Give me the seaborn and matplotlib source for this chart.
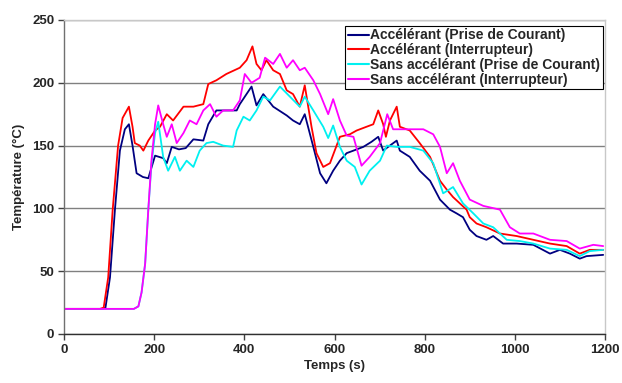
import matplotlib
matplotlib.use("Agg")
import matplotlib.pyplot as plt
import seaborn as sns
import pandas as pd
from matplotlib.lines import Line2D

# ---- data ----
labels = ["Accélérant (Prise de Courant)", "Accélérant (Interrupteur)",
          "Sans accélérant (Prise de Courant)", "Sans accélérant (Interrupteur)"]
colors = ["#000080", "#ff0000", "#00f0f0", "#ff00ff"]

navy_t = [0, 85, 92, 102, 113, 124, 135, 144, 152, 161, 175, 187, 202, 220, 228, 239, 255, 270, 287, 309,
          320, 338, 360, 383, 390, 416, 427, 442, 464, 494, 508, 523, 534, 553, 568, 582, 597, 612, 627,
          642, 664, 682, 697, 708, 719, 738, 745, 767, 789, 812, 834, 856, 871, 885, 900, 915, 937, 952,
          974, 1004, 1041, 1078, 1100, 1122, 1144, 1159, 1196]
navy_v = [20, 20, 21, 45, 99, 146, 163, 167, 150, 128, 125, 124, 142, 140, 136, 149, 147, 148, 155, 154,
          167, 178, 178, 178, 183, 197, 182, 191, 181, 174, 170, 167, 175, 149, 128, 120, 130, 138, 144,
          146, 149, 153, 157, 146, 149, 154, 146, 141, 130, 122, 107, 99, 96, 93, 83, 78, 75, 78,
          72, 72, 71, 64, 67, 64, 60, 62, 63]

red_t = [0, 80, 88, 98, 108, 120, 130, 144, 152, 157, 168, 176, 187, 202, 213, 228, 242, 265, 287, 309,
         320, 338, 360, 390, 405, 418, 427, 438, 449, 464, 479, 494, 508, 523, 534, 549, 560, 575, 590,
         612, 634, 649, 671, 686, 697, 708, 714, 723, 738, 745, 767, 789, 812, 834, 849, 863, 878, 893,
         900, 915, 937, 967, 1004, 1041, 1078, 1115, 1144, 1166, 1196]
red_v = [20, 20, 21, 45, 99, 150, 172, 181, 165, 152, 150, 146, 154, 162, 165, 175, 170, 181, 181, 183,
         199, 202, 207, 212, 218, 229, 215, 210, 218, 210, 207, 194, 191, 181, 198, 165, 144, 133, 136,
         157, 159, 162, 165, 167, 178, 167, 157, 170, 181, 165, 162, 152, 141, 122, 115, 109, 104, 99,
         93, 88, 85, 80, 78, 75, 72, 70, 64, 67, 67]

cyan_t = [0, 155, 165, 172, 180, 187, 194, 202, 209, 220, 231, 246, 257, 272, 287, 301, 316, 331, 353,
          375, 383, 398, 412, 427, 442, 457, 479, 501, 523, 534, 553, 575, 586, 597, 612, 627, 645, 660,
          678, 701, 716, 738, 767, 797, 819, 841, 863, 885, 908, 930, 952, 982, 1011, 1041, 1078, 1115,
          1144, 1166, 1196]
cyan_v = [20, 20, 22, 33, 56, 99, 135, 160, 169, 141, 130, 141, 130, 138, 133, 146, 152, 153, 150,
          149, 162, 173, 170, 178, 189, 186, 197, 189, 181, 189, 178, 165, 156, 166, 149, 138, 133, 119,
          130, 138, 150, 149, 149, 146, 136, 112, 117, 104, 96, 88, 85, 75, 74, 72, 68, 67,
          62, 66, 67]

mag_t = [0, 155, 165, 172, 180, 187, 194, 202, 209, 220, 228, 239, 250, 265, 279, 294, 309, 324, 338,
         353, 375, 390, 401, 416, 434, 446, 464, 479, 494, 508, 523, 534, 553, 568, 586, 597, 612, 627,
         642, 660, 678, 701, 717, 730, 760, 797, 819, 834, 849, 863, 878, 900, 930, 967, 989, 1011,
         1041, 1078, 1115, 1144, 1174, 1196]
mag_v = [20, 20, 22, 33, 56, 99, 138, 167, 182, 167, 157, 167, 152, 160, 170, 167, 178, 183, 173,
         178, 178, 186, 207, 200, 204, 220, 215, 223, 212, 218, 210, 212, 202, 191, 175, 187, 170, 158,
         157, 134, 141, 152, 175, 163, 163, 163, 159, 149, 128, 136, 122, 107, 102, 99, 85, 80,
         80, 75, 74, 68, 71, 70]

x_ticks = [0, 200, 400, 600, 800, 1000, 1200]
y_ticks = [0, 50, 100, 150, 200, 250]

series = [(navy_t, navy_v), (red_t, red_v), (cyan_t, cyan_v), (mag_t, mag_v)]
frames = []
for lab, (t, v) in zip(labels, series):
    frames.append(pd.DataFrame({"Temps": t, "Temp": v, "Série": lab}))
df = pd.concat(frames, ignore_index=True)

# ---- style ----
sns.set_style("white")
plt.rcParams["font.family"] = ["Liberation Sans", "DejaVu Sans"]
plt.rcParams["font.weight"] = "bold"

fig = plt.figure(figsize=(6.22, 3.83), dpi=100)
ax = fig.add_axes([64 / 622, 1 - 334 / 383, 541 / 622, 314 / 383])

sns.lineplot(data=df, x="Temps", y="Temp", hue="Série", palette=dict(zip(labels, colors)),
             hue_order=labels, estimator=None, sort=True, linewidth=1.3, ax=ax, legend=False)

fs = 9.5
ax.set_xlim(0, 1200)
ax.set_ylim(0, 250)
ax.set_xticks(x_ticks)
ax.set_yticks(y_ticks)
ax.set_xticklabels([str(v) for v in x_ticks], fontsize=fs, fontweight="bold")
ax.set_yticklabels([str(v) for v in y_ticks], fontsize=fs, fontweight="bold")
ax.set_xlabel("Temps (s)", fontsize=fs, fontweight="bold", labelpad=3)
ax.set_ylabel("Température (°C)", fontsize=fs, fontweight="bold", labelpad=5)

ax.yaxis.grid(True, color="#808080", linewidth=1.0)
ax.xaxis.grid(False)
ax.set_axisbelow(True)
for s in ["top", "right"]:
    ax.spines[s].set_color("#c8c8c8")
    ax.spines[s].set_linewidth(1.0)
ax.spines["left"].set_color("#707070")
ax.spines["bottom"].set_color("#303030")
for s in ["left", "bottom"]:
    ax.spines[s].set_linewidth(1.0)
ax.tick_params(axis="both", direction="out", length=4, width=1, color="#404040", pad=3,
               bottom=True, left=True)

handles = [Line2D([0], [0], color=c, lw=1.5) for c in colors]
leg = ax.legend(handles, labels, loc="upper right", bbox_to_anchor=(0.996, 0.982), borderaxespad=0,
                frameon=True, fancybox=False, shadow=False, handlelength=1.5, handletextpad=0.1,
                labelspacing=0.05, borderpad=0.2, prop={"size": 10, "weight": "bold"})
leg.get_frame().set_edgecolor("black")
leg.get_frame().set_linewidth(0.8)
leg.get_frame().set_alpha(1)

fig.savefig("out.png", dpi=100)
